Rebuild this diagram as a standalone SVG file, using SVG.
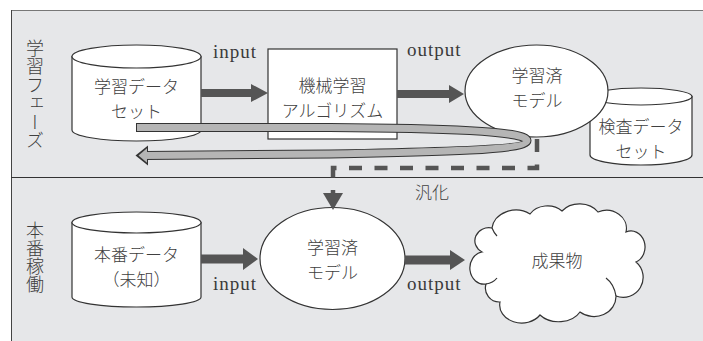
<svg xmlns="http://www.w3.org/2000/svg" width="703" height="341" viewBox="0 0 703 341">
  <defs>
    <style>
      .jp { font-family: "Noto Sans CJK JP", "Noto Sans", sans-serif; font-size: 17px; font-weight: 300; fill: #404040; text-anchor: middle; }
      .lat { font-family: "Liberation Serif", "DejaVu Serif", serif; font-size: 19px; letter-spacing: 1px; fill: #3a3a3a; }
      .side { font-family: "Noto Sans CJK JP", sans-serif; font-size: 18px; font-weight: 300; fill: #404040; writing-mode: vertical-rl; }
      .shape { fill: #ffffff; stroke: #333333; stroke-width: 1.2; }
      .hook { fill: none; stroke: #333333; stroke-width: 1.2; }
      .fat { fill: #555555; }
    </style>
  </defs>

  <!-- panel background and frame -->
  <g id="panel">
    <rect x="11" y="10" width="692" height="331" fill="#e6e7e9"/>
    <line x1="11" y1="10.5" x2="703" y2="10.5" stroke="#777" stroke-width="1"/>
    <line x1="11.5" y1="10" x2="11.5" y2="341" stroke="#444" stroke-width="1"/>
    <line x1="11" y1="177.5" x2="703" y2="177.5" stroke="#333" stroke-width="1.2"/>
  </g>

  <!-- phase labels -->
  <g id="label-training">
    <text class="side" x="35" y="39" letter-spacing="0.5">学習フェーズ</text>
  </g>
  <g id="label-production">
    <text class="side" x="35" y="221" font-size="17">本番稼働</text>
  </g>

  <!-- training data set (cylinder) -->
  <g id="training-data">
    <path class="shape" d="M72,56.5 L72,130 A64.5,11 0 0 0 201,130 L201,56.5 Z"/>
    <ellipse class="shape" cx="136.5" cy="56.5" rx="64.5" ry="11.5"/>
    <text class="jp" x="136.5" y="93">学習データ</text>
    <text class="jp" x="136.5" y="118">セット</text>
  </g>

  <!-- learning algorithm -->
  <g id="algorithm">
    <rect class="shape" x="268" y="49" width="129" height="90"/>
    <text class="jp" x="332.5" y="91.5">機械学習</text>
    <text class="jp" x="332.5" y="116.5">アルゴリズム</text>
  </g>

  <!-- validation data set (cylinder) -->
  <g id="validation-data">
    <path class="shape" d="M590,96.5 L590,155 A51,10 0 0 0 692,155 L692,96.5 Z"/>
    <ellipse class="shape" cx="641" cy="96.5" rx="51" ry="8.5"/>
    <text class="jp" x="641" y="132.5">検査データ</text>
    <text class="jp" x="641" y="157.5">セット</text>
  </g>

  <!-- trained model (training phase) -->
  <g id="trained-model">
    <ellipse class="shape" cx="536.5" cy="91" rx="71.5" ry="46"/>
    <text class="jp" x="537" y="82">学習済</text>
    <text class="jp" x="537" y="107">モデル</text>
  </g>

  <!-- production data (cylinder) -->
  <g id="production-data">
    <path class="shape" d="M72,222.5 L72,297 A64.5,10 0 0 0 201,297 L201,222.5 Z"/>
    <ellipse class="shape" cx="136.5" cy="222.5" rx="64.5" ry="10.5"/>
    <text class="jp" x="136.5" y="261">本番データ</text>
    <text class="jp" x="136.5" y="286">（未知）</text>
  </g>

  <!-- trained model (production) -->
  <g id="deployed-model">
    <ellipse class="shape" cx="332.5" cy="258.5" rx="72.5" ry="51"/>
    <text class="jp" x="332.5" y="254">学習済</text>
    <text class="jp" x="332.5" y="279">モデル</text>
  </g>

  <!-- result (cloud) -->
  <g id="result">
    <path class="shape" d="M482,252 A14,13 0 0 1 492,228 A24,20 0 0 1 530,214 A20,16 0 0 1 562,211 A22,18 0 0 1 598,212 A20,18 0 0 1 626,232 A14,16 0 0 1 636,262 A20,20 0 0 1 616,296 A22,20 0 0 1 580,312 A24,18 0 0 1 540,315 A22,18 0 0 1 500,302 A14,14 0 0 1 486,284 A14,16 0 0 1 482,252 Z"/>
    <path class="hook" d="M486,284 Q493,283 497,278"/>
    <path class="hook" d="M616,296 Q614,284 606,278"/>
    <path class="hook" d="M492,228 Q494,233 497,236"/>
    <text class="jp" x="557" y="267" font-size="18">成果物</text>
  </g>

  <!-- connectors -->
  <g id="connectors">
    <polygon class="fat" points="201,89 251,89 251,84 268,93 251,102 251,97 201,97"/>
    <polygon class="fat" points="397,90 449,90 449,85 464,94 449,103 449,98 397,98"/>
    <polygon class="fat" points="201,254.5 243,254.5 243,248 258,259 243,270 243,263.5 201,263.5"/>
    <polygon class="fat" points="405,255.5 450,255.5 450,250 465,260 450,270 450,264.5 405,264.5"/>

    <!-- feedback loop back to the training data -->
    <path d="M136,127.5 L330,127.5 C440,128 527,131 527,140.5 C527,150 440,152 330,154 L146,155.5" fill="none" stroke="#333" stroke-width="9"/>
    <polygon points="135.5,155.5 148,145.5 148,165.5" fill="#333"/>
    <path d="M137,127.5 L330,127.5 C440,128 527,131 527,140.5 C527,150 440,152 330,154 L144,155.5" fill="none" stroke="#b5b5b5" stroke-width="7"/>
    <polygon points="138.5,155.5 147,148.3 147,162.7" fill="#b5b5b5"/>

    <!-- generalisation: dashed link to the deployed model -->
    <path d="M537,139 L537,168 L333,168 L333,193" fill="none" stroke="#555" stroke-width="4.5" stroke-dasharray="13 12.5"/>
    <polygon class="fat" points="323,193 343,193 333,210"/>

    <text class="lat" x="213" y="58">input</text>
    <text class="lat" x="407" y="56">output</text>
    <text class="lat" x="213" y="290">input</text>
    <text class="lat" x="407" y="290">output</text>
    <text class="jp" x="432" y="199">汎化</text>
  </g>
</svg>
